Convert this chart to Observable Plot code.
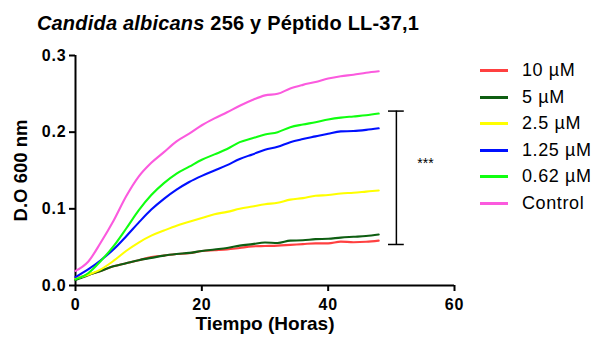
<!DOCTYPE html>
<html>
<head>
<meta charset="utf-8">
<script src="https://cdn.jsdelivr.net/npm/d3@7"></script>
<script src="https://cdn.jsdelivr.net/npm/@observablehq/plot@0.6"></script>
<style>
  html, body { margin: 0; padding: 0; background: #fff; }
  #wrap { position: relative; width: 600px; height: 343px; font-family: "Liberation Sans", Arial, sans-serif; color: #000; overflow: hidden; }
  #title { position: absolute; left: 0; top: 13px; width: 456px; text-align: center; font-size: 20px; line-height: 20px; font-weight: bold; white-space: nowrap; letter-spacing: 0.2px; }
  #legend { position: absolute; left: 480px; top: 0; }
  .lg-row { position: absolute; left: 0; width: 120px; height: 20px; }
  .lg-line { position: absolute; left: 0; top: 9px; width: 28px; height: 3px; }
  .lg-text { position: absolute; left: 42px; top: 0; font-size: 18px; line-height: 20px; white-space: nowrap; letter-spacing: 0.6px; }
  #chart { position: absolute; left: 0; top: 0; }
</style>
</head>
<body>
<div id="wrap">
  <div id="chart"></div>
  <div id="title"><i>Candida albicans</i> 256 y Péptido LL-37,1</div>
  <div id="legend"></div>
</div>
<script>
// ---- data ----
const time = [0, 2, 4, 6, 8, 10, 12, 14, 16, 18, 20, 22, 24, 26, 28, 30, 32, 34, 36, 38, 40, 42, 44, 46, 48];
const c10uM   = [0.009, 0.014, 0.019, 0.025, 0.029, 0.033, 0.037, 0.039, 0.041, 0.042, 0.045, 0.046, 0.047, 0.049, 0.051, 0.0515, 0.052, 0.053, 0.054, 0.055, 0.055, 0.0572, 0.0565, 0.057, 0.0585];
const c5uM    = [0.007, 0.0135, 0.019, 0.025, 0.029, 0.033, 0.036, 0.039, 0.041, 0.0425, 0.045, 0.047, 0.049, 0.052, 0.054, 0.056, 0.0555, 0.0585, 0.059, 0.0605, 0.061, 0.0625, 0.0635, 0.0645, 0.0665];
const c2_5uM  = [0.009, 0.014, 0.021, 0.032, 0.045, 0.056, 0.065, 0.0717, 0.078, 0.083, 0.088, 0.093, 0.096, 0.100, 0.103, 0.106, 0.108, 0.112, 0.114, 0.117, 0.118, 0.120, 0.121, 0.1225, 0.124];
const c1_25uM = [0.011, 0.021, 0.033, 0.047, 0.064, 0.082, 0.099, 0.113, 0.125, 0.135, 0.143, 0.150, 0.157, 0.165, 0.171, 0.177, 0.181, 0.187, 0.191, 0.1945, 0.198, 0.201, 0.2015, 0.203, 0.205];
const c0_62uM = [0.008, 0.016, 0.032, 0.051, 0.074, 0.098, 0.118, 0.1335, 0.146, 0.155, 0.164, 0.171, 0.178, 0.187, 0.192, 0.197, 0.200, 0.2065, 0.210, 0.213, 0.2165, 0.219, 0.2205, 0.222, 0.2243];
const control = [0.019, 0.031, 0.056, 0.084, 0.116, 0.142, 0.160, 0.174, 0.188, 0.198, 0.209, 0.218, 0.226, 0.2345, 0.242, 0.248, 0.250, 0.257, 0.2617, 0.2655, 0.270, 0.273, 0.275, 0.2775, 0.2795];

const seriesNames  = ["10 µM", "5 µM", "2.5 µM", "1.25 µM", "0.62 µM", "Control"];
const seriesValues = [c10uM, c5uM, c2_5uM, c1_25uM, c0_62uM, control];
const seriesColors = ["#ff4040", "#0e5e12", "#ffff00", "#0010ff", "#10ff10", "#fb5ade"];

const xTicks = [0, 20, 40, 60];
const yTicks = [0, 0.1, 0.2, 0.3];
const xLabel = "Tiempo (Horas)";
const yLabel = "D.O 600 nm";

// significance bracket annotation (hours / OD)
const bracketX = [50.8];
const bracketLow = [0.0535];
const bracketHigh = [0.2275];
const bracketCapHalf = 1.25;
const starsLabel = ["***"];
const starsX = [55.4];
const starsY = [0.159];

// ---- build table ----
const rows = seriesNames.flatMap((name, i) => time.map((t, j) => ({t, v: seriesValues[i][j], name})));
const bracket = bracketX.map((x, i) => ({x, lo: bracketLow[i], hi: bracketHigh[i]}));
const caps = bracket.flatMap(b => [b.lo, b.hi].map(y => ({y, x1: b.x - bracketCapHalf, x2: b.x + bracketCapHalf})));
const stars = starsLabel.map((s, i) => ({s, x: starsX[i], y: starsY[i]}));

const font = "Liberation Sans, Arial, sans-serif";

const chart = Plot.plot({
  width: 600,
  height: 343,
  marginTop: 55,
  marginBottom: 58,
  marginLeft: 75,
  marginRight: 146,
  style: {fontFamily: font, color: "#000", background: "transparent", overflow: "visible"},
  x: {domain: [0, 60]},
  y: {domain: [0, 0.3]},
  color: {domain: seriesNames, range: seriesColors},
  marks: [
    Plot.axisX({ticks: xTicks, tickSize: 6, tickPadding: 7, fontSize: 16, fontWeight: "bold", strokeWidth: 2, label: null}),
    Plot.axisY({ticks: yTicks, tickFormat: d3.format(".1f"), tickSize: 6, tickPadding: 3, fontSize: 16, fontWeight: "bold", strokeWidth: 2, label: null}),
    Plot.ruleY([0], {strokeWidth: 2}),
    Plot.ruleX([0], {strokeWidth: 2}),
    Plot.line(rows, {x: "t", y: "v", z: "name", stroke: "name", strokeWidth: 2.1, curve: "monotone-x"}),
    Plot.ruleX(bracket, {x: "x", y1: "lo", y2: "hi", strokeWidth: 1.5}),
    Plot.ruleY(caps, {y: "y", x1: "x1", x2: "x2", strokeWidth: 1.5}),
    Plot.text(stars, {x: "x", y: "y", text: "s", fontSize: 14, fontWeight: "normal"}),
    Plot.text([xLabel], {frameAnchor: "bottom", dy: 44, fontSize: 19, fontWeight: "bold", textAnchor: "middle"}),
    Plot.text([yLabel], {frameAnchor: "left", dx: -54, rotate: -90, fontSize: 18.5, fontWeight: "bold", textAnchor: "middle"})
  ]
});
document.getElementById("chart").appendChild(chart);

// widen tick labels slightly, like the reference's stretched lettering
d3.select(chart).selectAll('g[aria-label="x-axis tick label"] text, g[aria-label="y-axis tick label"] text')
  .style("letter-spacing", "0.8px");

// ---- legend ----
const legendTop = 60;
const legendStep = 26.5;
const legend = document.getElementById("legend");
seriesNames.forEach((name, i) => {
  const row = document.createElement("div");
  row.className = "lg-row";
  row.style.top = (legendTop + i * legendStep) + "px";
  const ln = document.createElement("div");
  ln.className = "lg-line";
  ln.style.background = seriesColors[i];
  const tx = document.createElement("div");
  tx.className = "lg-text";
  tx.textContent = name;
  row.appendChild(ln);
  row.appendChild(tx);
  legend.appendChild(row);
});
</script>
</body>
</html>
